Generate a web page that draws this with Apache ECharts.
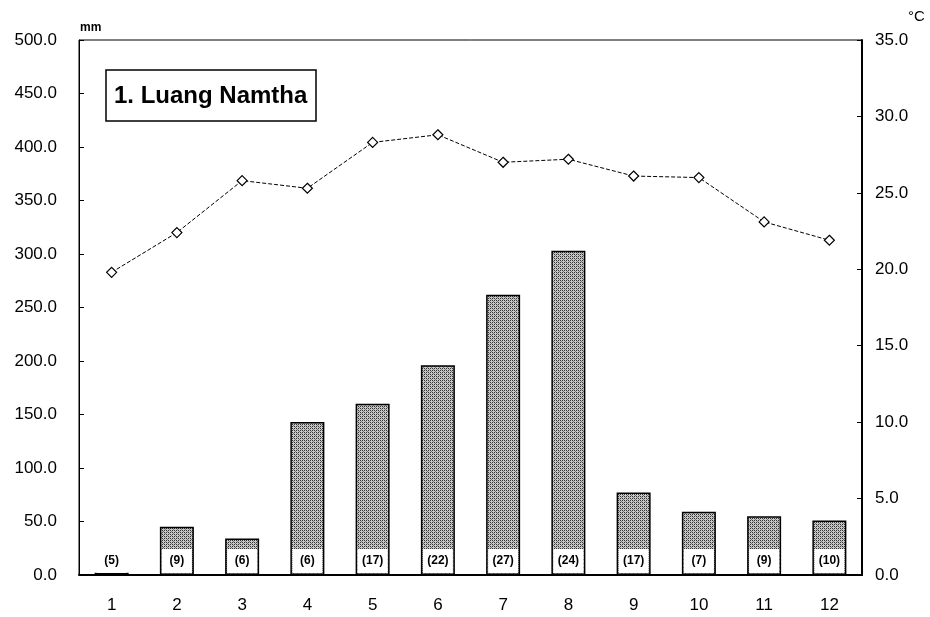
<!DOCTYPE html>
<html>
<head>
<meta charset="utf-8">
<script src="https://cdn.jsdelivr.net/npm/echarts@6/dist/echarts.min.js"></script>
<style>
  html, body { margin: 0; padding: 0; background: #fff; }
  #chart-container { width: 930px; height: 617px; }
</style>
</head>
<body>
<div id="chart-container"></div>
<script>
var dom = document.getElementById("chart-container");
var myChart = echarts.init(dom, null, { renderer: "canvas" });

const months = ["1", "2", "3", "4", "5", "6", "7", "8", "9", "10", "11", "12"];
const rainfall = [2, 45, 34, 143, 160, 196, 262, 303, 77, 59, 55, 51];
const rainDays = [5, 9, 6, 6, 17, 22, 27, 24, 17, 7, 9, 10];
const temperature = [19.8, 22.4, 25.8, 25.3, 28.3, 28.8, 27.0, 27.2, 26.1, 26.0, 23.1, 21.9];

// halftone-like fill for the bars
const pat = document.createElement("canvas");
pat.width = 4;
pat.height = 4;
const pctx = pat.getContext("2d");
pctx.fillStyle = "#c8c8c8";
pctx.fillRect(0, 0, 4, 4);
pctx.fillStyle = "#333";
pctx.fillRect(0, 0, 1, 1);
pctx.fillRect(2, 2, 1, 1);
pctx.fillRect(2, 0, 1, 1);
pctx.fillRect(0, 2, 1, 1);
pctx.fillStyle = "#777";
pctx.fillRect(1, 1, 1, 1);
pctx.fillRect(3, 3, 1, 1);

const font = "Liberation Sans";

var option = {
  animation: false,
  title: {
    text: "1. Luang Namtha",
    left: 106,
    top: 70,
    borderColor: "#000",
    borderWidth: 1.5,
    padding: [14, 9, 13, 8],
    textStyle: { fontFamily: font, fontSize: 24, fontWeight: "bold", color: "#000" },
  },
  grid: {
    left: 79,
    right: 68,
    top: 40,
    bottom: 42,
    show: true,
    borderColor: "#000",
    borderWidth: 1,
  },
  xAxis: {
    type: "category",
    data: months,
    axisLine: { lineStyle: { color: "#000", width: 2 } },
    axisTick: { show: false },
    axisLabel: { color: "#000", fontFamily: font, fontSize: 17, margin: 22 },
  },
  yAxis: [
    {
      type: "value",
      name: "mm",
      nameLocation: "end",
      nameGap: 6,
      nameTextStyle: { color: "#000", fontFamily: font, fontSize: 12, fontWeight: "bold", align: "left", padding: [0, 0, 0, 1] },
      min: 0,
      max: 500,
      interval: 50,
      splitLine: { show: false },
      axisLine: { show: true, lineStyle: { color: "#000", width: 1 } },
      axisTick: { show: true, inside: true, length: 5, lineStyle: { color: "#000" } },
      axisLabel: {
        color: "#000",
        fontFamily: font,
        fontSize: 17,
        margin: 22,
        formatter: (v) => v.toFixed(1),
      },
    },
    {
      type: "value",
      name: "°C",
      nameLocation: "end",
      nameGap: 16,
      nameTextStyle: { color: "#000", fontFamily: font, fontSize: 15, align: "left", padding: [0, 0, 0, 46] },
      min: 0,
      max: 35,
      interval: 5,
      splitLine: { show: false },
      axisLine: { show: true, lineStyle: { color: "#000", width: 2 } },
      axisTick: { show: true, inside: true, length: 5, lineStyle: { color: "#000" } },
      axisLabel: {
        color: "#000",
        fontFamily: font,
        fontSize: 17,
        margin: 13,
        formatter: (v) => v.toFixed(1),
      },
    },
  ],
  series: [
    {
      name: "Rainfall",
      type: "bar",
      yAxisIndex: 0,
      barWidth: 34,
      data: rainfall,
      itemStyle: {
        color: { image: pat, repeat: "repeat" },
        borderColor: "#000",
        borderWidth: 1.5,
      },
      label: {
        show: true,
        position: "insideBottom",
        distance: 2,
        formatter: (p) => "(" + rainDays[p.dataIndex] + ")",
        backgroundColor: "#fff",
        width: 30,
        height: 24,
        lineHeight: 24,
        align: "center",
        color: "#000",
        fontFamily: font,
        fontSize: 12,
        fontWeight: "bold",
      },
    },
    {
      name: "Temperature",
      type: "line",
      yAxisIndex: 1,
      data: temperature,
      symbol: "diamond",
      symbolSize: 10,
      lineStyle: { color: "#000", width: 1, type: [4, 2] },
      itemStyle: { color: "#fff", borderColor: "#000", borderWidth: 1.2 },
      z: 5,
    },
  ],
};

myChart.setOption(option);
window.addEventListener("resize", myChart.resize);
</script>
</body>
</html>
